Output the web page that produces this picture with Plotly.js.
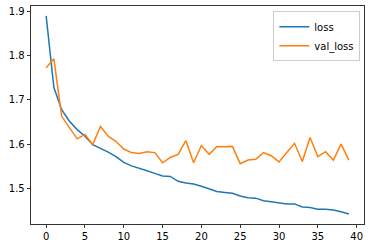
<!DOCTYPE html>
<html>
<head>
<meta charset="utf-8">
<script src="https://cdn.plot.ly/plotly-3.0.1.min.js"></script>
<style>html,body{margin:0;padding:0;background:#fff;}#chart{width:372px;height:248px;}</style>
</head>
<body>
<div id="chart"></div>
<script>
const epochs = Array.from({length: 40}, (_, i) => i);
const loss = [1.890, 1.728, 1.678, 1.652, 1.633, 1.618, 1.599, 1.591, 1.582, 1.572,
              1.559, 1.551, 1.546, 1.540, 1.534, 1.528, 1.527, 1.516, 1.512, 1.510,
              1.505, 1.499, 1.493, 1.491, 1.489, 1.483, 1.479, 1.478, 1.472, 1.470,
              1.468, 1.465, 1.465, 1.458, 1.457, 1.453, 1.453, 1.451, 1.447, 1.442];
const valLoss = [1.773, 1.793, 1.663, 1.637, 1.612, 1.622, 1.599, 1.640, 1.618, 1.606,
                 1.589, 1.581, 1.579, 1.583, 1.581, 1.558, 1.570, 1.577, 1.608, 1.558,
                 1.597, 1.577, 1.595, 1.594, 1.595, 1.556, 1.564, 1.566, 1.581, 1.574,
                 1.560, 1.581, 1.602, 1.561, 1.615, 1.572, 1.583, 1.564, 1.600, 1.564];
const xTicks = [0, 5, 10, 15, 20, 25, 30, 35, 40];
const yTicks = [1.5, 1.6, 1.7, 1.8, 1.9];
const seriesNames = ['loss', 'val_loss'];

const font = {family: 'DejaVu Sans, sans-serif', size: 10, color: '#000'};
const traces = [
  {x: epochs, y: loss, name: seriesNames[0], type: 'scatter', mode: 'lines',
   line: {color: '#1f77b4', width: 1.5}},
  {x: epochs, y: valLoss, name: seriesNames[1], type: 'scatter', mode: 'lines',
   line: {color: '#ff7f0e', width: 1.5}}
];
const axisCommon = {
  showgrid: false, zeroline: false, showline: true, mirror: true,
  linecolor: '#000', linewidth: 0.8, ticks: 'outside', ticklen: 3.5,
  tickwidth: 0.8, tickcolor: '#000', tickfont: font
};
const layout = {
  width: 372, height: 248,
  margin: {l: 31, r: 8, t: 6, b: 24, pad: 0},
  paper_bgcolor: '#fff', plot_bgcolor: '#fff',
  font: font,
  showlegend: true,
  legend: {x: 0.989, y: 0.976, xanchor: 'right', yanchor: 'top',
           bgcolor: 'rgba(255,255,255,0.8)', bordercolor: '#cccccc', borderwidth: 1,
           font: font, itemwidth: 30, tracegroupgap: 0},
  xaxis: Object.assign({}, axisCommon, {range: [-1.95, 40.95], tickvals: xTicks,
           ticktext: xTicks.map(String)}),
  yaxis: Object.assign({}, axisCommon, {range: [1.4195, 1.9125], tickvals: yTicks,
           ticktext: yTicks.map(v => v.toFixed(1))})
};
Plotly.newPlot('chart', traces, layout, {staticPlot: true, displayModeBar: false});
</script>
</body>
</html>
